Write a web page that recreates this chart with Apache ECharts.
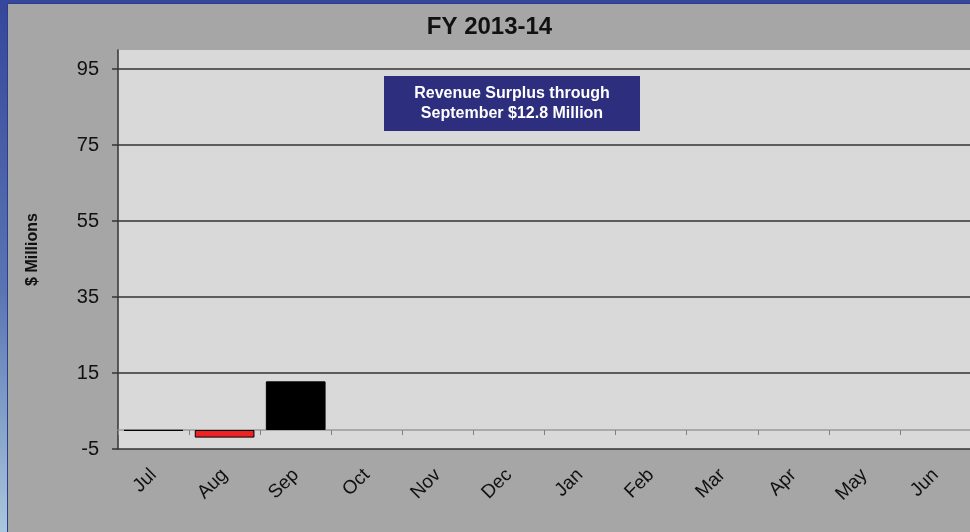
<!DOCTYPE html>
<html>
<head>
<meta charset="utf-8">
<script src="https://cdn.jsdelivr.net/npm/echarts@6/dist/echarts.min.js"></script>
<style>
    html, body { margin: 0; padding: 0; width: 970px; height: 532px; overflow: hidden; }
    body { background: linear-gradient(180deg, #34479a 0%, #5b75b3 55%, #a9c8dc 100%); position: relative; }
    #chart {
        position: absolute; left: 7px; top: 3px; width: 963px; height: 529px;
        border-left: 1px solid #2a3d92; border-top: 1px solid #2a3d92;
        background: #a6a6a6;
    }
</style>
</head>
<body>
<div id="chart"></div>
<script>
// 月份
var months = ["Jul", "Aug", "Sep", "Oct", "Nov", "Dec", "Jan", "Feb", "Mar", "Apr", "May", "Jun"];
// 累计盈余（百万美元）
var surplus = [-0.2, -2.0, 12.8, null, null, null, null, null, null, null, null, null];
var yTicks = [-5, 15, 35, 55, 75, 95];
var noteLines = ["Revenue Surplus through", "September $12.8 Million"];

var chart = echarts.init(document.getElementById("chart"), null, { renderer: "canvas" });

var barData = surplus.map(function(v) {
    if (v === null) return null;
    return {
        value: v,
        itemStyle: { color: v < 0 ? "#ee2222" : "#000000" }
    };
});

var option = {
    backgroundColor: "#a6a6a6",
    animation: false,
    textStyle: { fontFamily: "Liberation Sans, Arial, sans-serif" },
    title: {
        text: "FY 2013-14",
        left: "center",
        top: 6,
        textStyle: { fontSize: 24, fontWeight: "bold", color: "#111" }
    },
    grid: {
        left: 110, right: 0, top: 46, bottom: 84,
        show: true, backgroundColor: "#d9d9d9", borderWidth: 0
    },
    xAxis: [{
        // 零线坐标轴
        type: "category",
        data: months,
        axisLine: { onZero: true, lineStyle: { color: "#9a9a9a", width: 1.5 } },
        axisTick: { show: true, length: 5, lineStyle: { color: "#808080" } },
        axisLabel: { show: false },
        splitLine: { show: false }
    }, {
        // 底部标签
        type: "category",
        data: months,
        position: "bottom",
        axisLine: { show: false, onZero: false },
        axisTick: { show: false },
        axisLabel: { rotate: 45, margin: 23, fontSize: 19, color: "#111", interval: 0 },
        splitLine: { show: false }
    }],
    yAxis: {
        type: "value",
        min: -5,
        max: 100,
        interval: 20,
        name: "$ Millions",
        nameLocation: "middle",
        nameRotate: 90,
        nameGap: 77,
        nameTextStyle: { fontSize: 16, fontWeight: "bold", color: "#111" },
        axisLine: { show: true, lineStyle: { color: "#333", width: 1.5 } },
        axisTick: { show: true, length: 6, customValues: yTicks, lineStyle: { color: "#333", width: 1.5 } },
        axisLabel: { customValues: yTicks, margin: 19, fontSize: 20, color: "#111" },
        splitLine: { show: true, showMinLine: true, showMaxLine: true, lineStyle: { color: "#333", width: 1.5 } }
    },
    graphic: [{
        type: "group",
        left: 376,
        top: 72,
        children: [{
            type: "rect",
            shape: { x: 0, y: 0, width: 256, height: 55 },
            style: { fill: "#2e2e7e" }
        }, {
            type: "text",
            x: 128,
            y: 27.5,
            style: {
                text: noteLines.join("\n"),
                fill: "#fff",
                font: "bold 16px Liberation Sans, Arial, sans-serif",
                lineHeight: 20,
                align: "center",
                verticalAlign: "middle"
            }
        }]
    }],
    series: [{
        type: "bar",
        data: barData,
        xAxisIndex: 0,
        barCategoryGap: "16%",
        itemStyle: { borderColor: "#000", borderWidth: 1 }
    }]
};

chart.setOption(option);
</script>
</body>
</html>
